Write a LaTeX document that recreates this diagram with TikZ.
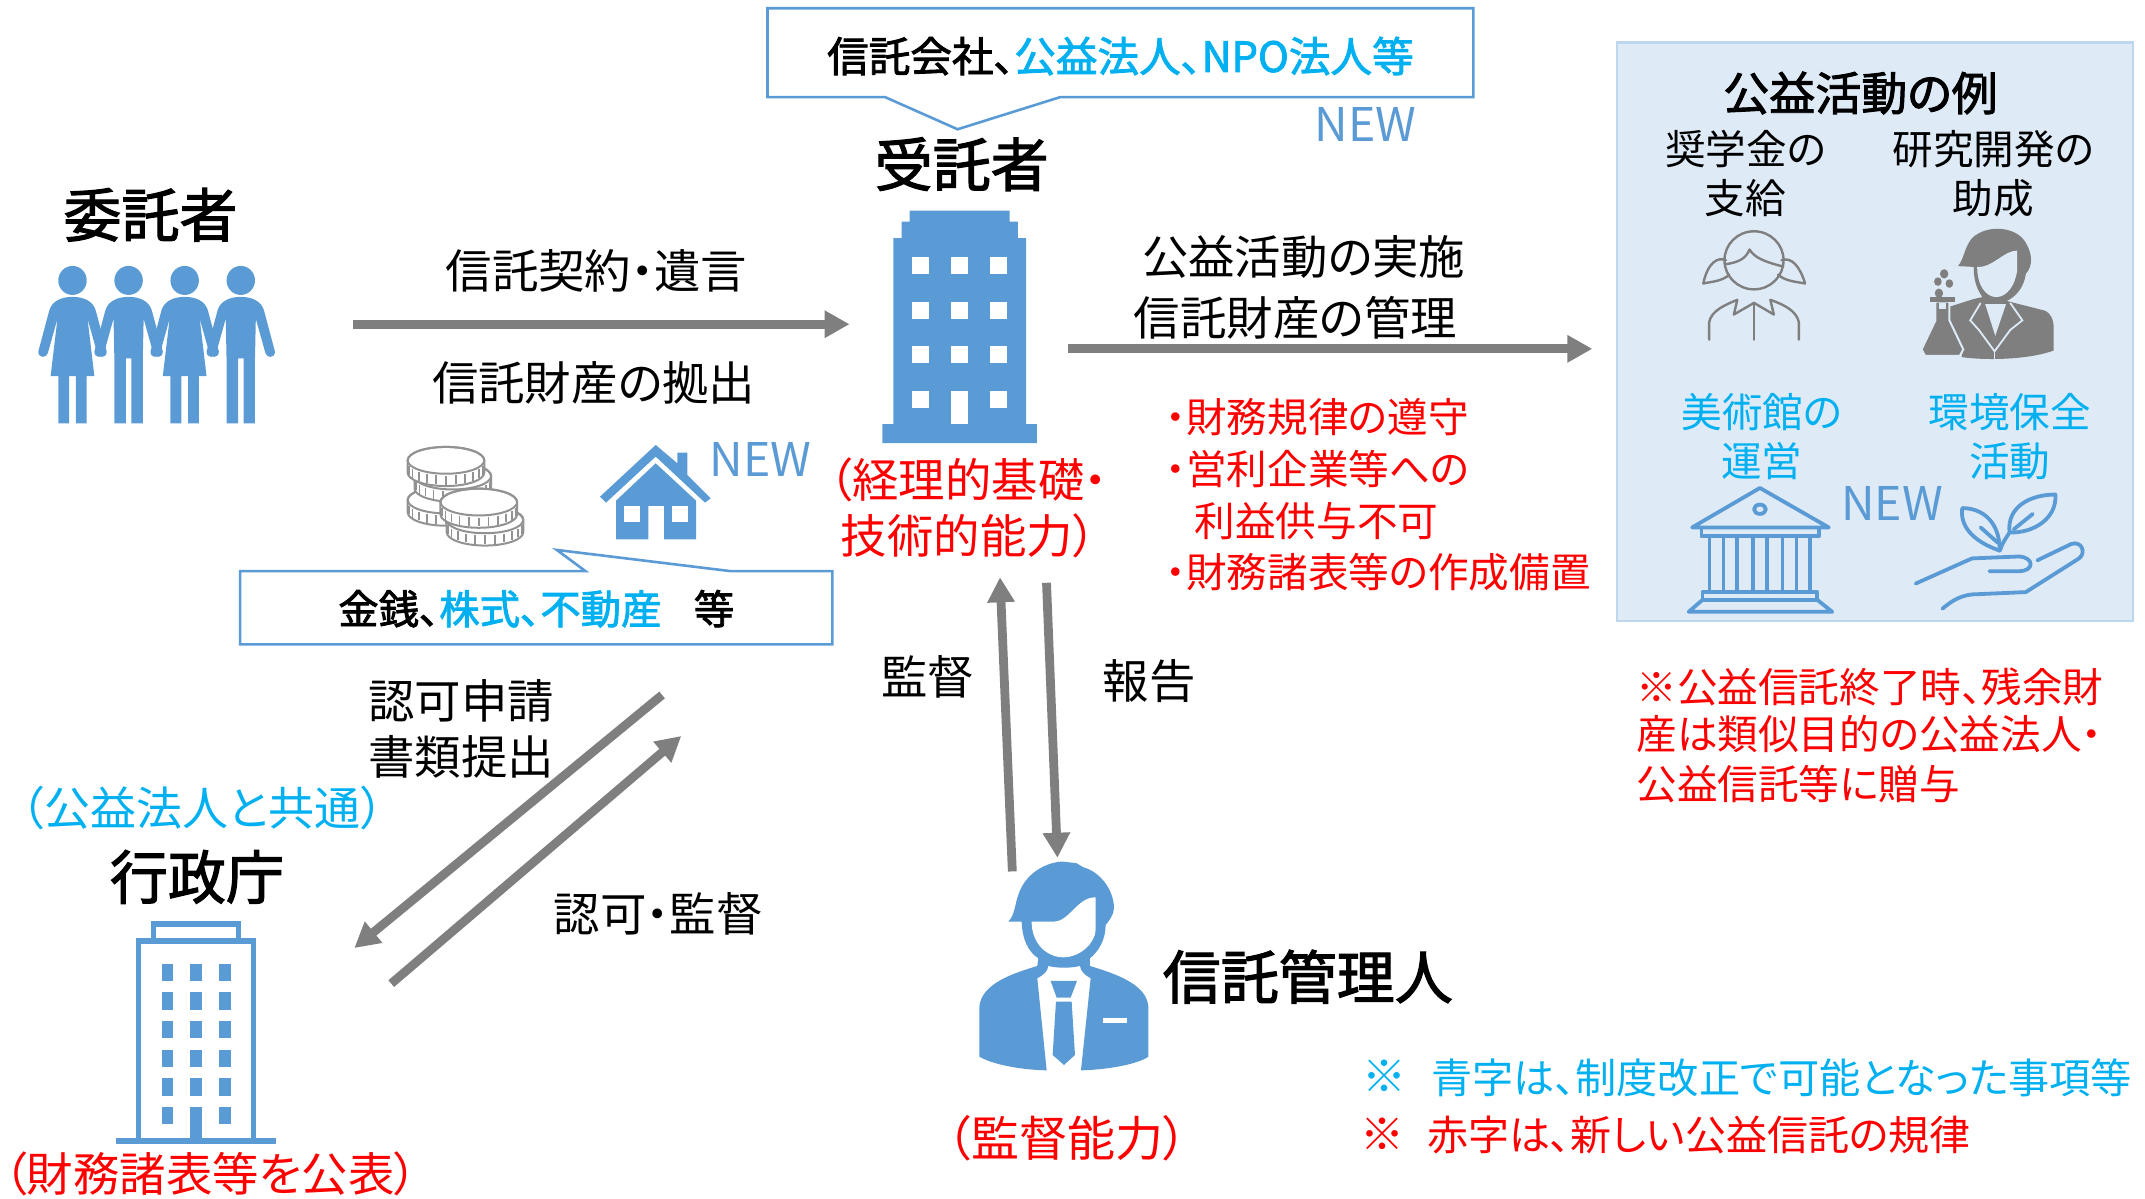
\documentclass[tikz,border=0pt]{standalone}
\usepackage{fontspec}
\setmainfont{Noto Sans CJK JP}[RawFeature={+palt}]
\newfontfamily\medfont{Noto Sans CJK JP}[RawFeature={+palt},FakeBold=2]
\usetikzlibrary{arrows.meta}
\definecolor{iconblue}{HTML}{5B9BD5}
\definecolor{newcyan}{HTML}{00B0F0}
\definecolor{arrowgray}{HTML}{7F7F7F}
\definecolor{panelblue}{HTML}{DEEAF6}
\definecolor{panelline}{HTML}{BDD7EE}
\tikzset{
  flow/.style={draw=arrowgray, line width=4.4pt, -{Triangle[length=12.5pt,width=13pt]}},
  balloon/.style={draw=iconblue, line width=1.3pt, fill=white, line join=miter},
  lbl/.style={font=\fontsize{23.2}{23.2}\selectfont, inner sep=0pt},
  sublbl/.style={font=\fontsize{20.3}{20.3}\selectfont, inner sep=0pt},
  rolelbl/.style={font=\fontsize{29}{29}\selectfont\medfont, inner sep=0pt},
  newlbl/.style={font=\fontsize{23.2}{23.2}\selectfont, text=iconblue, inner sep=0pt},
  redlbl/.style={sublbl, text=red, anchor=west},
  bluelbl/.style={sublbl, text=newcyan},
  thinicon/.style={draw=arrowgray, line width=1.2pt, line cap=round, line join=round},
  blueline/.style={draw=iconblue, line width=1.9pt, line cap=round, line join=round},
  womanfig/.pic={
    \fill[iconblue] (0,0) ellipse (10.4 and 10.6);
    \fill[iconblue] (0,12) .. controls (-8,12) and (-15,15) .. (-17,22) -- (-25,52) .. controls (-25,57) and (-19,57) .. (-18,53)
      -- (-11,28) -- (-16,70) -- (-10.4,70) -- (-10.4,104.5) -- (-2.5,104.5) -- (-2.5,70) -- (2.5,70) -- (2.5,104.5) -- (10.4,104.5) -- (10.4,70) -- (16,70)
      -- (11,28) -- (18,53) .. controls (19,57) and (25,57) .. (25,52) -- (17,22) .. controls (15,15) and (8,12) .. (0,12) -- cycle;
  },
  manfig/.pic={
    \fill[iconblue] (0,0) ellipse (10.4 and 10.6);
    \fill[iconblue] (0,12) .. controls (-8,12) and (-15,15) .. (-17,22) -- (-25,52) .. controls (-25,57) and (-19,57) .. (-18,53)
      -- (-11,28) -- (-10.4,57) -- (-10.4,104.5) -- (-2,104.5) -- (-2,57) -- (2,57) -- (2,104.5) -- (10.4,104.5) -- (10.4,57)
      -- (11,28) -- (18,53) .. controls (19,57) and (25,57) .. (25,52) -- (17,22) .. controls (15,15) and (8,12) .. (0,12) -- cycle;
  },
  coinpic/.pic={
    \draw[draw=arrowgray!85, line width=1pt, fill=white] (-28,0) -- (-28,9) arc[start angle=180, end angle=0, x radius=28, y radius=9.8] -- (28,0) arc[start angle=0, end angle=-180, x radius=28, y radius=9.8];
    \draw[draw=arrowgray!85, line width=1pt] (0,0) ellipse (28 and 9.8);
    \foreach \a in {195,210,...,345} {
      \draw[draw=arrowgray!85, line width=.7pt] ({28*cos(\a)},{-9.8*sin(\a)+1.5}) -- ++(0,6.5);
    }
  }
}
\begin{document}
\begin{tikzpicture}[x=0.684pt, y=-0.684pt]
\useasboundingbox (0,0) rectangle (1568,876);
% panel
\draw[fill=panelblue, draw=panelline, line width=1.2pt] (1182,31) rectangle (1559,454);
% balloons
\draw[balloon] (561,6) -- (1077,6) -- (1077,71) -- (775,71) -- (700,94.5) -- (647,71) -- (561,71) -- cycle;
\draw[balloon] (175.5,417.5) -- (428,417.5) -- (407,402) -- (534,417.5) -- (608.5,417.5) -- (608.5,471) -- (175.5,471) -- cycle;
% people
\foreach \px/\figname in {53/womanfig,94/manfig,135/womanfig,176/manfig} {
  \pic at (\px,205) {\figname};
}
% trustee building
\fill[iconblue] (665,154) -- (738,154) -- (738,162) -- (744,162) -- (744,174) -- (750,174) -- (750,310) -- (758,310) -- (758,324)
  -- (645,324) -- (645,310) -- (653,310) -- (653,174) -- (659,174) -- (659,162) -- (665,162) -- cycle;
\foreach \wy in {188,220.5,252.7,285.6} {
  \foreach \wx in {667,695.5,724} {
    \fill[white] (\wx,\wy) rectangle ++(12,12.6);
  }
}
\fill[white] (695.5,290) rectangle (707.6,310);
% ministry building
\begin{scope}[shift={(73.1,657.9)}, scale=.2437]
  \fill[iconblue] (48,715) rectangle (528,733);
  \fill[iconblue] (270,621) rectangle (305,715);
  \draw[iconblue, line width=2.8pt] (116,715) -- (116,123) -- (460,123) -- (460,715);
  \draw[iconblue, line width=2.8pt] (160,123) -- (160,72) -- (416,72) -- (416,123);
  \foreach \wy in {191,277,363,449,535,621} {
    \fill[iconblue] (185,\wy) rectangle ++(35,52);
    \fill[iconblue] (356,\wy) rectangle ++(36,52);
  }
  \foreach \wy in {191,277,363,449,535} {
    \fill[iconblue] (270,\wy) rectangle ++(35,52);
  }
\end{scope}
% supervisor
\begin{scope}[shift={(679.8,614)}, scale=.2437]
  \fill[iconblue] (235,245) .. controls (255,225) and (255,190) .. (265,165) .. controls (285,100) and (350,65) .. (400,65) -- (440,70) -- (460,82)
    .. controls (510,95) and (552,150) .. (552,205) .. controls (552,225) and (535,245) .. (527,255)
    .. controls (527,300) and (505,335) .. (480,355) -- (480,378) .. controls (550,400) and (650,430) .. (655,500) -- (655,650)
    .. controls (620,675) and (520,690) .. (453,691) -- (482,415) .. controls (465,405) and (452,395) .. (450,378)
    .. controls (420,385) and (385,385) .. (355,378) .. controls (353,395) and (340,405) .. (322,415) -- (350,691)
    .. controls (280,690) and (190,675) .. (148,650) -- (148,500) .. controls (155,430) and (250,400) .. (322,378) -- (325,355)
    .. controls (295,335) and (277,300) .. (275,245) -- cycle;
  \fill[white] (305,245) -- (370,245) .. controls (420,245) and (440,172) .. (497,172) -- (497,270)
    .. controls (495,310) and (450,352) .. (400,352) .. controls (350,352) and (305,310) .. (305,245) -- cycle;
  \fill[iconblue] (362,423) -- (441,423) -- (422,473) -- (380,473) -- cycle;
  \fill[iconblue] (378,485) -- (425,485) -- (435,645) -- (402,675) -- (368,645) -- cycle;
  \fill[white] (520,533) rectangle (592,550);
\end{scope}
% coins
\pic at (326,365.5) {coinpic};
\pic at (331,348) {coinpic};
\pic at (326,336.5) {coinpic};
\pic at (354.5,380) {coinpic};
\pic at (350,367) {coinpic};
% house
\begin{scope}[shift={(431.3,314.3)}, scale=.2437]
  \fill[iconblue] (197,45) -- (262,100) -- (262,68) -- (292,68) -- (292,135) -- (362,205) -- (345,218) -- (197,80) -- (48,218) -- (30,200) -- cycle;
  \fill[iconblue] (197,100) -- (318,212) -- (318,328) -- (222,328) -- (222,228) -- (175,228) -- (175,328) -- (78,328) -- (78,212) -- cycle;
  \fill[white] (102,228) rectangle (150,277);
  \fill[white] (245,228) rectangle (293,277);
\end{scope}
% student
\begin{scope}[shift={(1169.6,21.9)}, xscale=.2541, yscale=.283]
  \draw[thinicon] (443,595) ellipse (85 and 75);
  \draw[thinicon] (362,605) .. controls (400,600) and (420,590) .. (430,567) .. controls (445,590) and (480,600) .. (522,610);
  \draw[thinicon] (362,595) .. controls (340,585) and (310,600) .. (297,655) .. controls (320,650) and (350,650) .. (372,632);
  \draw[thinicon] (522,595) .. controls (550,585) and (575,610) .. (590,655) .. controls (565,650) and (535,650) .. (512,632);
  \draw[thinicon] (314,800) -- (314,755) .. controls (320,725) and (360,710) .. (395,697) -- (385,735) -- (443,705) -- (500,735) -- (490,697)
    .. controls (530,710) and (565,725) .. (572,755) -- (572,800);
  \draw[thinicon] (443,705) -- (443,800);
\end{scope}
% scientist
\begin{scope}[shift={(1169.6,21.9)}, xscale=.2541, yscale=.283]
  \fill[arrowgray] (1030,610) .. controls (1050,590) and (1050,540) .. (1090,525) .. controls (1130,505) and (1200,510) .. (1225,550) .. controls (1245,580) and (1245,610) .. (1225,630)
    .. controls (1220,665) and (1195,690) .. (1170,700) -- (1280,725) .. controls (1300,735) and (1305,750) .. (1305,770) -- (1305,828) .. controls (1240,850) and (1120,855) .. (1040,845)
    -- (1045,825) -- (1005,750) -- (1005,715) -- (1075,695) -- (1100,690) .. controls (1085,670) and (1075,650) .. (1075,612) -- cycle;
  \fill[panelblue] (1085,612) .. controls (1130,615) and (1160,570) .. (1200,570) -- (1200,620) .. controls (1195,660) and (1170,690) .. (1140,690) .. controls (1110,690) and (1085,660) .. (1085,612) -- cycle;
  \fill[panelblue] (1108,708) -- (1168,708) -- (1137,790) -- cycle;
  \draw[panelblue, line width=.9pt] (1095,705) -- (1065,750) -- (1090,775) -- (1135,830) -- (1180,775) -- (1215,750) -- (1180,705);
  \draw[panelblue, line width=.9pt] (1135,830) -- (1135,850);
  \draw[panelblue, line width=1pt, fill=arrowgray] (965,702) -- (1005,702) -- (1005,750) -- (1045,825) -- (1035,842) -- (935,842) -- (925,825) -- (965,750) -- cycle;
  \fill[arrowgray] (948,690) rectangle (1020,702);
  \fill[panelblue] (975,705) rectangle (995,722);
  \fill[arrowgray] (990,630) circle (12);
  \fill[arrowgray] (972,650) circle (11);
  \fill[arrowgray] (1005,655) circle (11);
  \fill[arrowgray] (975,680) circle (12);
\end{scope}
% museum
\begin{scope}[shift={(1169.6,21.9)}, xscale=.2541, yscale=.283]
  \draw[blueline] (460,1183) -- (265,1285) -- (658,1285) -- cycle;
  \draw[blueline] (460,1238) ellipse (17 and 12);
  \draw[blueline] (292,1287) -- (292,1308) -- (630,1308) -- (630,1287);
  \foreach \cx in {315,355,395,440,480,525,565,605} {
    \draw[blueline] (\cx,1310) -- (\cx,1452);
  }
  \draw[blueline] (295,1452) -- (625,1452) -- (625,1472) -- (295,1472) -- cycle;
  \draw[blueline] (295,1472) -- (255,1503) -- (668,1503) -- (625,1472);
\end{scope}
% hand
\begin{scope}[shift={(1169.6,21.9)}, xscale=.2541, yscale=.283]
  \draw[blueline] (908,1430) -- (1070,1365) -- (1205,1360) .. controls (1250,1362) and (1250,1398) .. (1205,1398) -- (1120,1398);
  \draw[blueline] (1258,1370) -- (1355,1328) .. controls (1385,1318) and (1400,1350) .. (1378,1365) -- (1225,1452) -- (1070,1458) .. controls (1030,1462) and (1005,1480) .. (985,1495);
  \draw[blueline] (1150,1345) .. controls (1070,1320) and (1035,1280) .. (1042,1235) .. controls (1100,1235) and (1150,1270) .. (1150,1345);
  \draw[blueline] (1150,1345) .. controls (1160,1320) and (1170,1310) .. (1178,1298) .. controls (1250,1300) and (1315,1260) .. (1310,1200) .. controls (1240,1200) and (1170,1230) .. (1178,1298);
  \draw[blueline] (1095,1285) -- (1145,1325);
  \draw[blueline] (1190,1290) -- (1245,1250);
\end{scope}
% nodes
\node[rolelbl] (itaku) at (110,157) {委託者};
\node[rolelbl] (jutaku) at (703,120) {受託者};
\node[rolelbl] (gyosei) at (144,641) {行政庁};
\node[rolelbl] (kanri) at (956,714) {信託管理人};
\node[lbl] (keiyaku) at (436,198) {信託契約・遺言};
\node[lbl] (kyoshutsu) at (434,280) {信託財産の拠出};
\node[lbl] (jisshi) at (953,188) {公益活動の実施};
\node[lbl] (kanrilbl) at (947,232) {信託財産の管理};
\node[lbl] (kantoku) at (678,495) {監督};
\node[lbl] (hokoku) at (840,498) {報告};
\node[lbl] (shinsei1) at (337,512) {認可申請};
\node[lbl] (shinsei2) at (337,553) {書類提出};
\node[lbl] (ninka) at (481,668) {認可・監督};
\node[inner sep=0pt, font=\fontsize{20.8}{20.8}\selectfont\medfont] (shurui) at (819,41) {信託会社、{\color{newcyan}公益法人、NPO法人等}};
\node[inner sep=0pt, font=\fontsize{20.2}{20.2}\selectfont\medfont] (kinsen) at (392,445) {金銭、{\color{newcyan}株式、不動産}\hspace{.8em}等};
\node[newlbl] (new1) at (998,91) {NEW};
\node[newlbl] (new2) at (556,336) {NEW};
\node[newlbl] (new3) at (1383,368) {NEW};
\node[lbl, text=red] (kiso1) at (708,351) {（経理的基礎・};
\node[lbl, text=red] (kiso2) at (708,392) {技術的能力）};
\node[lbl, text=red, font=\fontsize{24}{24}\selectfont] (noryoku) at (780,832) {（監督能力）};
\node[redlbl] (kiritsu1) at (852,305) {・財務規律の遵守};
\node[redlbl] (kiritsu2) at (852,343) {・営利企業等への};
\node[redlbl] (kiritsu3) at (873,381) {利益供与不可};
\node[redlbl] (kiritsu4) at (852,418) {・財務諸表等の作成備置};
\node[bluelbl, font=\fontsize{23}{23}\selectfont] (kyotsu) at (148,591) {（公益法人と共通）};
\node[sublbl, text=red, font=\fontsize{23.2}{23.2}\selectfont] (kohyo) at (154,858) {（財務諸表等を公表）};
% panel nodes
\node[lbl, font=\fontsize{23}{23}\selectfont\medfont] (rei) at (1360,68) {公益活動の例};
\node[sublbl] (ex1a) at (1276,109) {奨学金の};
\node[sublbl] (ex1b) at (1276,145) {支給};
\node[sublbl] (ex2a) at (1457,109) {研究開発の};
\node[sublbl] (ex2b) at (1457,145) {助成};
\node[bluelbl] (ex3a) at (1288,301) {美術館の};
\node[bluelbl] (ex3b) at (1288,337) {運営};
\node[bluelbl] (ex4a) at (1469,301) {環境保全};
\node[bluelbl] (ex4b) at (1469,337) {活動};
% notes
\node[redlbl] (zan1) at (1196,502) {※公益信託終了時、残余財};
\node[redlbl] (zan2) at (1196,537) {産は類似目的の公益法人・};
\node[redlbl] (zan3) at (1196,573) {公益信託等に贈与};
\node[bluelbl, anchor=west, font=\fontsize{22}{22}\selectfont] (kome1) at (996,787) {※};
\node[bluelbl, anchor=west, font=\fontsize{20.6}{20.6}\selectfont] (note1) at (1046,788) {青字は、制度改正で可能となった事項等};
\node[redlbl, font=\fontsize{22}{22}\selectfont] (kome2) at (994,829) {※};
\node[redlbl, font=\fontsize{20.5}{20.5}\selectfont] (note2) at (1043,830) {赤字は、新しい公益信託の規律};
% arrow ends
\coordinate (a1) at (258,237);
\coordinate (a2) at (621,237);
\coordinate (b1) at (781,255);
\coordinate (b2) at (1164,255);
\coordinate (c1) at (740,637);
\coordinate (c2) at (731,422);
\coordinate (d1) at (765,426);
\coordinate (d2) at (773,627);
\coordinate (e1) at (484,508);
\coordinate (e2) at (259,693);
\coordinate (f1) at (286,719);
\coordinate (f2) at (498,538);
% arrows
\draw[flow] (a1) -- (a2);
\draw[flow] (b1) -- (b2);
\draw[flow] (c1) -- (c2);
\draw[flow] (d1) -- (d2);
\draw[flow] (e1) -- (e2);
\draw[flow] (f1) -- (f2);
\end{tikzpicture}
\end{document}
